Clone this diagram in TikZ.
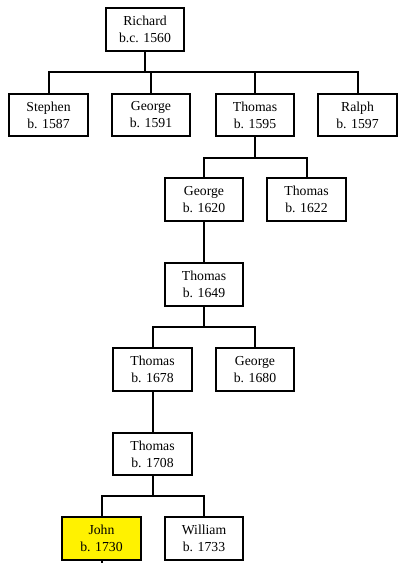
\documentclass[tikz,border=0pt]{standalone}
\usepackage{fontspec}
\setmainfont{Liberation Serif}
\tikzset{
  person/.style={draw,line width=1.5pt,fill=white,minimum width=59pt,minimum height=32pt,
    inner sep=0pt,align=center,font=\fontsize{10.3}{12.8}\selectfont},
  me/.style={person,fill=yellow},
  link/.style={line width=1.5pt}
}
\begin{document}
\begin{tikzpicture}[x=0.75pt,y=-0.75pt]
\useasboundingbox (0,0) rectangle (400,563);

\node [person] (richard) at (145,29.5) {Richard\\b.c. 1560};

\node [person] (stephen) at (48.5,115) {Stephen\\b. 1587};
\node [person] (george1) at (151,115) {George\\b. 1591};
\node [person] (thomas1) at (255,115) {Thomas\\b. 1595};
\node [person] (ralph) at (357.5,115) {Ralph\\b. 1597};

\node [person] (george2) at (204,199.5) {George\\b. 1620};
\node [person] (thomas2) at (306.5,199.5) {Thomas\\b. 1622};

\node [person] (thomas3) at (204,284.5) {Thomas\\b. 1649};

\node [person] (thomas4) at (152.5,369.5) {Thomas\\b. 1678};
\node [person] (george3) at (255,369.5) {George\\b. 1680};

\node [person] (thomas5) at (152.5,454) {Thomas\\b. 1708};

\node [me] (john) at (101.5,538.5) {John\\b. 1730};
\node [person] (william) at (204,538.5) {William\\b. 1733};

\draw [link] (richard.south) -- ++(0,20) -| (stephen.north);
\draw [link] (richard.south) -- ++(0,20) -| (george1.north);
\draw [link] (richard.south) -- ++(0,20) -| (thomas1.north);
\draw [link] (richard.south) -- ++(0,20) -| (ralph.north);

\draw [link] (thomas1.south) -- ++(0,21) -| (george2.north);
\draw [link] (thomas1.south) -- ++(0,21) -| (thomas2.north);

\draw [link] (george2.south) -- (thomas3.north);

\draw [link] (thomas3.south) -- ++(0,20) -| (thomas4.north);
\draw [link] (thomas3.south) -- ++(0,20) -| (george3.north);

\draw [link] (thomas4.south) -- (thomas5.north);

\draw [link] (thomas5.south) -- ++(0,20) -| (john.north);
\draw [link] (thomas5.south) -- ++(0,20) -| (william.north);

\coordinate (stub) at (101.5,563);
\draw [link] (john.south) -- (stub);
\end{tikzpicture}
\end{document}
